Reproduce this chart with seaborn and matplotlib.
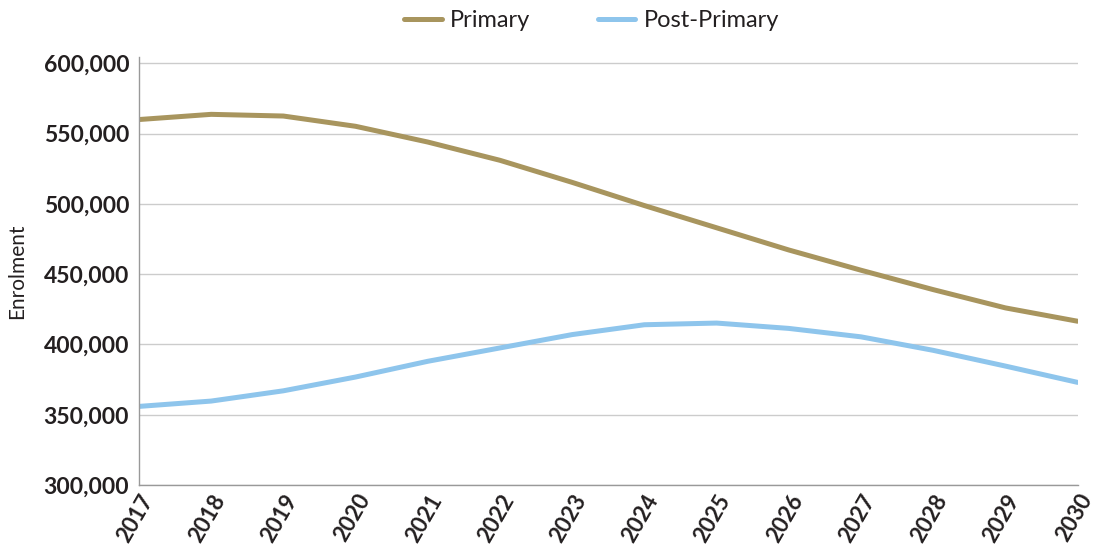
import matplotlib
matplotlib.use("Agg")
import matplotlib.pyplot as plt
import seaborn as sns
import pandas as pd
from matplotlib.ticker import FuncFormatter

years = [2017, 2018, 2019, 2020, 2021, 2022, 2023, 2024, 2025, 2026, 2027, 2028, 2029, 2030]
primary = [560000, 563700, 562500, 555200, 544000, 531000, 515300, 498800, 483000, 467200, 452800, 439000, 426000, 416500]
post_primary = [355900, 359700, 367000, 376800, 388000, 397500, 407000, 414000, 415200, 411400, 405400, 395800, 384600, 373000]
series_names = ["Primary", "Post-Primary"]
colors = ["#A8955E", "#8EC5EC"]

df = pd.DataFrame({"Year": years * 2,
                   "Enrolment": primary + post_primary,
                   "Series": [series_names[0]] * len(years) + [series_names[1]] * len(years)})

sns.set_theme(style="white")
plt.rcParams['font.family'] = ['Lato', 'DejaVu Sans']

fig = plt.figure(figsize=(10.94, 5.48), dpi=100)
ax = fig.add_axes([0.127, 0.115, 0.858, 0.7815])

sns.lineplot(data=df, x="Year", y="Enrolment", hue="Series", palette=colors,
             linewidth=3.6, ax=ax, legend=True)

ax.set_xlim(2017, 2030)
ax.set_ylim(300000, 604700)
ax.set_yticks(range(300000, 600001, 50000))
ax.yaxis.set_major_formatter(FuncFormatter(lambda v, p: f"{int(v):,}"))
ax.set_xticks(years)
ax.set_xticklabels([str(y) for y in years], rotation=60, ha='right',
                   rotation_mode='anchor', fontsize=16, fontweight='bold', color='#231F20')
for lab in ax.get_yticklabels():
    lab.set_fontsize(16.5)
    lab.set_fontweight('bold')
    lab.set_color('#231F20')
ax.tick_params(axis='both', length=0)
ax.tick_params(axis='y', pad=7)
ax.tick_params(axis='x', pad=4)
ax.grid(axis='y', color='#CCCCCC', linewidth=1)
ax.set_axisbelow(True)
for s in ['top', 'right']:
    ax.spines[s].set_visible(False)
for s in ['left', 'bottom']:
    ax.spines[s].set_color('#999999')
    ax.spines[s].set_linewidth(1)
ax.set_xlabel("")
ax.set_ylabel("Enrolment", fontsize=15, color='#231F20', labelpad=12)

handles, labels = ax.get_legend_handles_labels()
ax.legend_.remove()
fig.legend(handles, labels, loc='center', bbox_to_anchor=(0.5407, 0.963), ncol=2,
           frameon=False, fontsize=17, handlelength=1.6, handletextpad=0.35,
           columnspacing=2.85, labelcolor='#231F20')

fig.savefig("out.png", dpi=100)
